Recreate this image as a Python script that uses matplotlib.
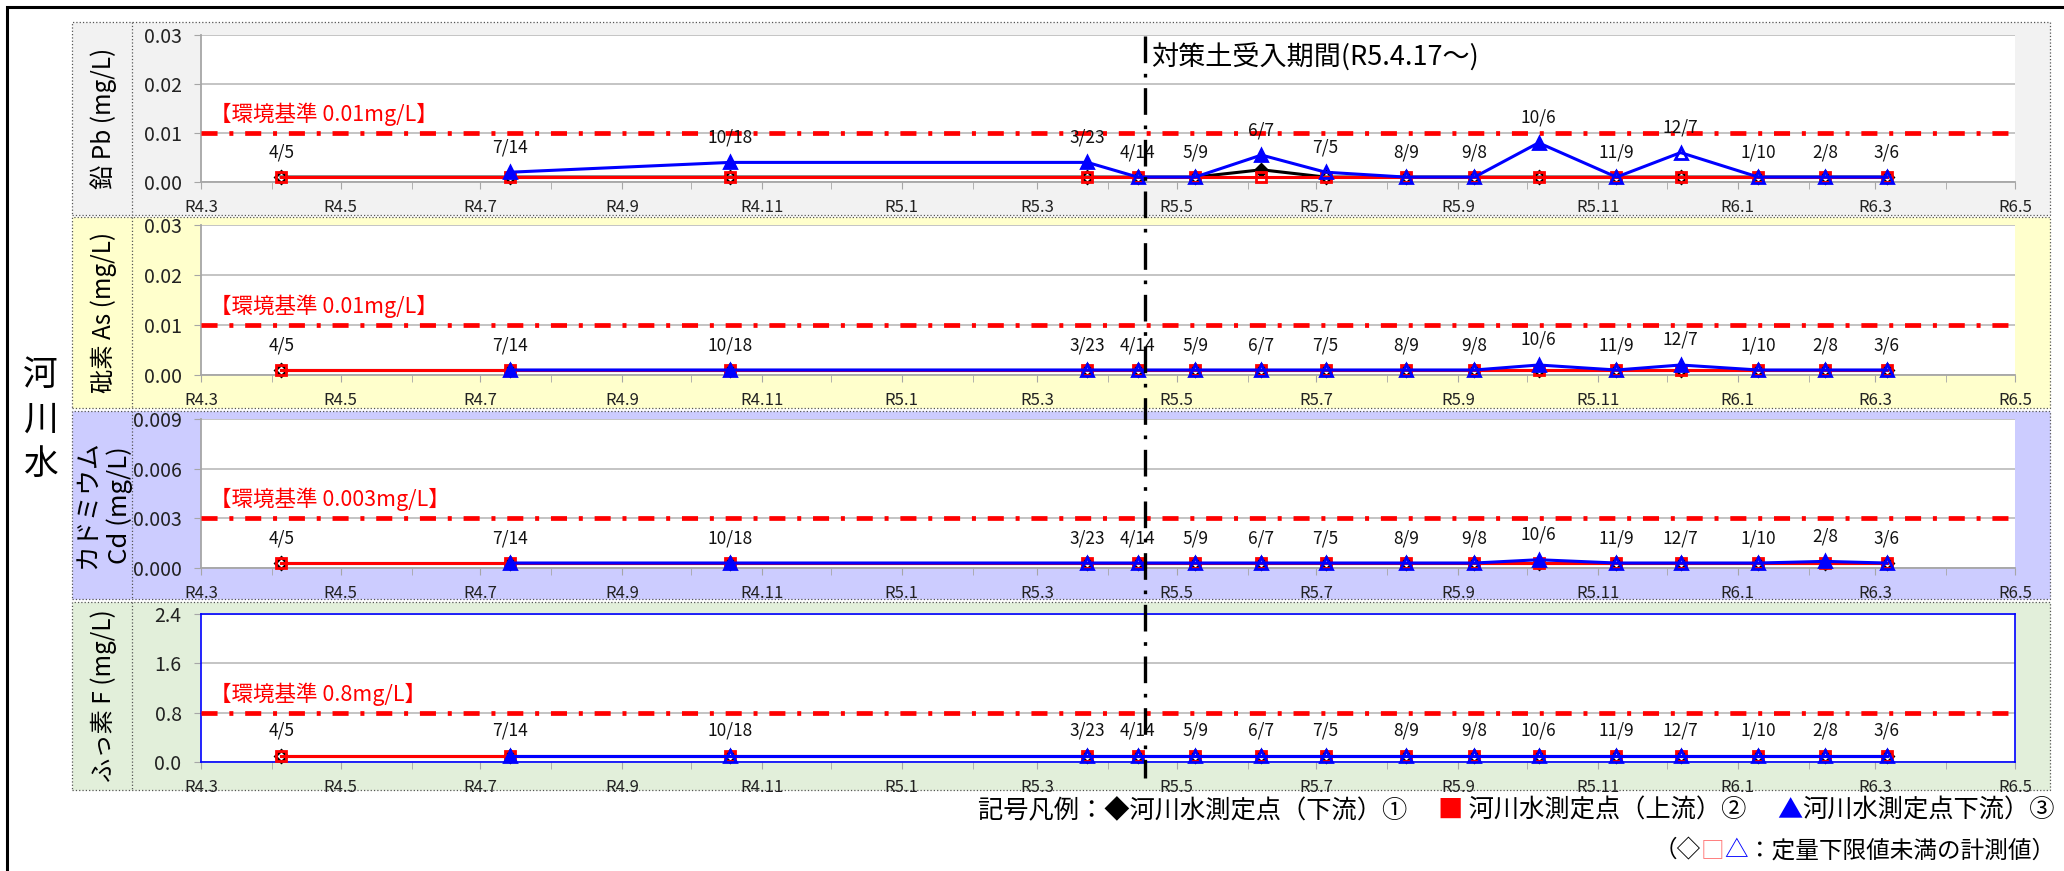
import matplotlib
matplotlib.use('Agg')
import matplotlib.pyplot as plt
import matplotlib.dates as mdates
from matplotlib.patches import Rectangle
from matplotlib.lines import Line2D
import numpy as np
from datetime import datetime

plt.rcParams['font.family'] = ['Noto Sans CJK JP', 'DejaVu Sans']

# ---------------- data ----------------
sample_dates = ['2022-04-05', '2022-07-14', '2022-10-18', '2023-03-23', '2023-04-14', '2023-05-09',
                '2023-06-07', '2023-07-05', '2023-08-09', '2023-09-08', '2023-10-06', '2023-11-09',
                '2023-12-07', '2024-01-10', '2024-02-08', '2024-03-06']
date_labels = ['4/5', '7/14', '10/18', '3/23', '4/14', '5/9', '6/7', '7/5', '8/9', '9/8', '10/6',
               '11/9', '12/7', '1/10', '2/8', '3/6']

nan = np.nan
# Pb
pb_down1 = [0.001, 0.001, 0.001, 0.001, 0.001, 0.001, 0.0025, 0.001, 0.001, 0.001, 0.001, 0.001, 0.001, 0.001, 0.001, 0.001]
pb_up2 = [0.001, 0.001, 0.001, 0.001, 0.001, 0.001, 0.001, 0.001, 0.001, 0.001, 0.001, 0.001, 0.001, 0.001, 0.001, 0.001]
pb_down3 = [nan, 0.002, 0.004, 0.004, 0.001, 0.001, 0.0055, 0.002, 0.001, 0.001, 0.008, 0.001, 0.006, 0.001, 0.001, 0.001]
pb_down1_fill = [0, 0, 0, 0, 0, 0, 1, 0, 0, 0, 0, 0, 0, 0, 0, 0]
pb_down3_fill = [0, 1, 1, 1, 0, 0, 1, 0, 0, 0, 1, 0, 0, 0, 0, 0]
# As
as_down1 = [0.001, 0.001, 0.001, 0.001, 0.001, 0.001, 0.001, 0.001, 0.001, 0.001, 0.001, 0.001, 0.001, 0.001, 0.001, 0.001]
as_up2 = [0.001, 0.001, 0.001, 0.001, 0.001, 0.001, 0.001, 0.001, 0.001, 0.001, 0.001, 0.001, 0.001, 0.001, 0.001, 0.001]
as_down3 = [nan, 0.001, 0.001, 0.001, 0.001, 0.001, 0.001, 0.001, 0.001, 0.001, 0.002, 0.001, 0.002, 0.001, 0.001, 0.001]
as_down3_fill = [0, 1, 1, 0, 0, 0, 0, 0, 0, 0, 1, 0, 1, 0, 0, 0]
# Cd
cd_down1 = [0.0003, 0.0003, 0.0003, 0.0003, 0.0003, 0.0003, 0.0003, 0.0003, 0.0003, 0.0003, 0.0003, 0.0003, 0.0003, 0.0003, 0.0003, 0.0003]
cd_up2 = [0.0003, 0.0003, 0.0003, 0.0003, 0.0003, 0.0003, 0.0003, 0.0003, 0.0003, 0.0003, 0.0003, 0.0003, 0.0003, 0.0003, 0.0003, 0.0003]
cd_down3 = [nan, 0.0003, 0.0003, 0.0003, 0.0003, 0.0003, 0.0003, 0.0003, 0.0003, 0.0003, 0.0005, 0.0003, 0.0003, 0.0003, 0.0004, 0.0003]
cd_down3_fill = [0, 1, 1, 0, 0, 0, 0, 0, 0, 0, 1, 0, 0, 0, 1, 0]
# F
f_down1 = [0.1, 0.1, 0.1, 0.1, 0.1, 0.1, 0.1, 0.1, 0.1, 0.1, 0.1, 0.1, 0.1, 0.1, 0.1, 0.1]
f_up2 = [0.1, 0.1, 0.1, 0.1, 0.1, 0.1, 0.1, 0.1, 0.1, 0.1, 0.1, 0.1, 0.1, 0.1, 0.1, 0.1]
f_down3 = [nan, 0.1, 0.1, 0.1, 0.1, 0.1, 0.1, 0.1, 0.1, 0.1, 0.1, 0.1, 0.1, 0.1, 0.1, 0.1]
f_down3_fill = [0, 1, 0, 0, 0, 0, 0, 0, 0, 0, 0, 0, 0, 0, 0, 0]

no_fill = [0, 0, 0, 0, 0, 0, 0, 0, 0, 0, 0, 0, 0, 0, 0, 0]

standards = [0.01, 0.01, 0.003, 0.8]
standard_labels = ['【環境基準 0.01mg/L】', '【環境基準 0.01mg/L】', '【環境基準 0.003mg/L】', '【環境基準 0.8mg/L】']
y_labels = ['鉛 Pb (mg/L)', '砒素 As (mg/L)', 'カドミウム\nCd (mg/L)', 'ふっ素 F (mg/L)']
y_tick_values = [[0.0, 0.01, 0.02, 0.03], [0.0, 0.01, 0.02, 0.03], [0.0, 0.003, 0.006, 0.009], [0.0, 0.8, 1.6, 2.4]]
y_tick_labels = [['0.00', '0.01', '0.02', '0.03'], ['0.00', '0.01', '0.02', '0.03'],
                 ['0.000', '0.003', '0.006', '0.009'], ['0.0', '0.8', '1.6', '2.4']]
x_tick_dates = ['2022-03-01', '2022-05-01', '2022-07-01', '2022-09-01', '2022-11-01', '2023-01-01', '2023-03-01',
                '2023-05-01', '2023-07-01', '2023-09-01', '2023-11-01', '2024-01-01', '2024-03-01', '2024-05-01']
x_tick_labels = ['R4.3', 'R4.5', 'R4.7', 'R4.9', 'R4.11', 'R5.1', 'R5.3', 'R5.5', 'R5.7', 'R5.9', 'R5.11',
                 'R6.1', 'R6.3', 'R6.5']
period_start = '2023-04-17'
period_label = '対策土受入期間(R5.4.17～)'
region_label = '河\n川\n水'

panels = [
    (pb_down1, pb_up2, pb_down3, pb_down1_fill, no_fill, pb_down3_fill),
    (as_down1, as_up2, as_down3, no_fill, no_fill, as_down3_fill),
    (cd_down1, cd_up2, cd_down3, no_fill, no_fill, cd_down3_fill),
    (f_down1, f_up2, f_down3, no_fill, no_fill, f_down3_fill),
]
panel_colors = ['#F2F2F2', '#FFFFCC', '#CCCCFF', '#E2EFDA']

# ---------------- layout ----------------
W, H = 2064, 871
fig = plt.figure(figsize=(W / 100, H / 100), dpi=100)
fig.patch.set_facecolor('white')

def fx(x):
    return x / W

def fy(y):
    return 1 - y / H

# outer border
fig.add_artist(Rectangle((fx(7), fy(H + 20)), fx(W + 20), (H + 13) / H, transform=fig.transFigure,
                         fill=False, edgecolor='black', lw=2.2, zorder=0))

box_y = [(22, 215), (217, 408), (411, 599), (602, 790)]
plot_y = [(35, 182), (225, 375), (419, 568), (614, 762)]
box_x0, box_x1, div_x = 72, 2050, 132
plot_x0, plot_x1 = 201, 2015

dts = [datetime.strptime(d, '%Y-%m-%d') for d in sample_dates]
xd = mdates.date2num(dts)
xmin = mdates.date2num(datetime(2022, 3, 1))
xmax = mdates.date2num(datetime(2024, 5, 1))

axes = []
for i in range(4):
    y0, y1 = box_y[i]
    fig.add_artist(Rectangle((fx(box_x0), fy(y1)), fx(box_x1 - box_x0), (y1 - y0) / H,
                             transform=fig.transFigure, facecolor=panel_colors[i],
                             edgecolor='#555555', lw=0.9, ls=':', zorder=0))
    fig.add_artist(Line2D([fx(div_x), fx(div_x)], [fy(y0), fy(y1)], transform=fig.transFigure,
                          color='#555555', lw=0.9, ls=':', zorder=0.5))
    py0, py1 = plot_y[i]
    ax = fig.add_axes([fx(plot_x0), fy(py1), fx(plot_x1 - plot_x0), (py1 - py0) / H])
    axes.append(ax)
    ax.set_facecolor('white')
    ax.set_xlim(xmin, xmax)
    yt = y_tick_values[i]
    ax.set_ylim(yt[0], yt[-1])
    ax.set_yticks(yt)
    ax.set_yticklabels(y_tick_labels[i], fontsize=14, color='#222222')
    ax.grid(axis='y', color='#BFBFBF', lw=1.3)
    ax.set_axisbelow(True)
    ax.set_xticks(mdates.date2num([datetime.strptime(d, '%Y-%m-%d') for d in x_tick_dates]))
    ax.set_xticklabels(x_tick_labels, fontsize=12, color='#222222')
    ax.xaxis.set_minor_locator(mdates.MonthLocator())
    ax.tick_params(axis='x', which='both', direction='out', length=5, color='#A6A6A6', pad=7)
    ax.tick_params(axis='y', direction='out', length=5, color='#A6A6A6', pad=9)
    for s in ['top', 'right']:
        ax.spines[s].set_visible(False)
    for s in ['left', 'bottom']:
        ax.spines[s].set_color('#A6A6A6')
        ax.spines[s].set_linewidth(1.3)
    if i == 3:
        for s in ['top', 'right', 'left', 'bottom']:
            ax.spines[s].set_visible(True)
            ax.spines[s].set_color('#0000FF')
            ax.spines[s].set_linewidth(1.2)

    # standard line
    ax.axhline(standards[i], color='#FF0000', lw=3.4, ls=(0, (3.4, 2.5, 0.85, 2.5)), zorder=3)
    ax.annotate(standard_labels[i], xy=(0.005, standards[i]), xycoords=('axes fraction', 'data'),
                xytext=(0, 5), textcoords='offset points', ha='left', va='bottom',
                color='#FF0000', fontsize=15.5)

    d1, u2, d3, f1, f2, f3 = panels[i]
    series = [(d1, f1, '#000000', 'D', 6.5, 3), (u2, f2, '#FF0000', 's', 7.5, 4), (d3, f3, '#0000FF', '^', 8.5, 5)]
    for vals, fills, col, mk, ms, z in series:
        v = np.array(vals, dtype=float)
        ax.plot(xd, v, color=col, lw=2.2, zorder=z, clip_on=False)
        for xx, yy, ff in zip(xd, v, fills):
            if np.isnan(yy):
                continue
            ax.plot([xx], [yy], marker=mk, ms=ms, mec=col, mfc=(col if ff else 'none'),
                    mew=2.0, zorder=z + 0.5, clip_on=False, ls='none')
    # date labels
    for j, lab in enumerate(date_labels):
        vmax = np.nanmax([d1[j], u2[j], d3[j]])
        ax.annotate(lab, xy=(xd[j], vmax), xytext=(0, 18), textcoords='offset points',
                    ha='center', va='center', fontsize=12.5, color='#111111', zorder=6)
    # y label
    fig.text(fx((box_x0 + div_x) / 2 + 2), fy((box_y[i][0] + box_y[i][1]) / 2), y_labels[i],
             rotation=90, ha='center', va='center', fontsize=(18.5 if i == 2 else 17.5),
             linespacing=1.3)

# vertical period line
xline = mdates.date2num(datetime.strptime(period_start, '%Y-%m-%d'))
xpix = axes[0].transData.transform((xline, 0))[0]
fig.add_artist(Line2D([xpix / W, xpix / W], [fy(36), fy(778)], transform=fig.transFigure,
                      color='black', lw=2.4, ls=(0, (8, 3.2, 1.1, 3.2)), zorder=10))
fig.text(fx(xpix + 6), fy(58), period_label, ha='left', va='center', fontsize=19.5, zorder=10)

# region label
fig.text(fx(40), fy(420), region_label, ha='center', va='center', fontsize=25, linespacing=1.35)

# legend texts
fig.canvas.draw()
renderer = fig.canvas.get_renderer()

def right_segments(segments, x_right, y_c, fs):
    x = x_right
    for text, col in reversed(segments):
        t = fig.text(fx(x), fy(y_c), text, color=col, fontsize=fs, ha='right', va='center')
        bb = t.get_window_extent(renderer=renderer)
        x -= bb.width

right_segments([('記号凡例：◆河川水測定点（下流）①　 ', '#000000'), ('■', '#FF0000'),
                (' 河川水測定点（上流）②　 ', '#000000'), ('▲', '#0000FF'),
                ('河川水測定点下流）③', '#000000')], 2055, 811, 18.2)
right_segments([('（◇', '#000000'), ('□', '#FF7070'), ('△', '#0000FF'),
                ('：定量下限値未満の計測値）', '#000000')], 2055, 851, 17)

fig.savefig('out.png', dpi=100)
